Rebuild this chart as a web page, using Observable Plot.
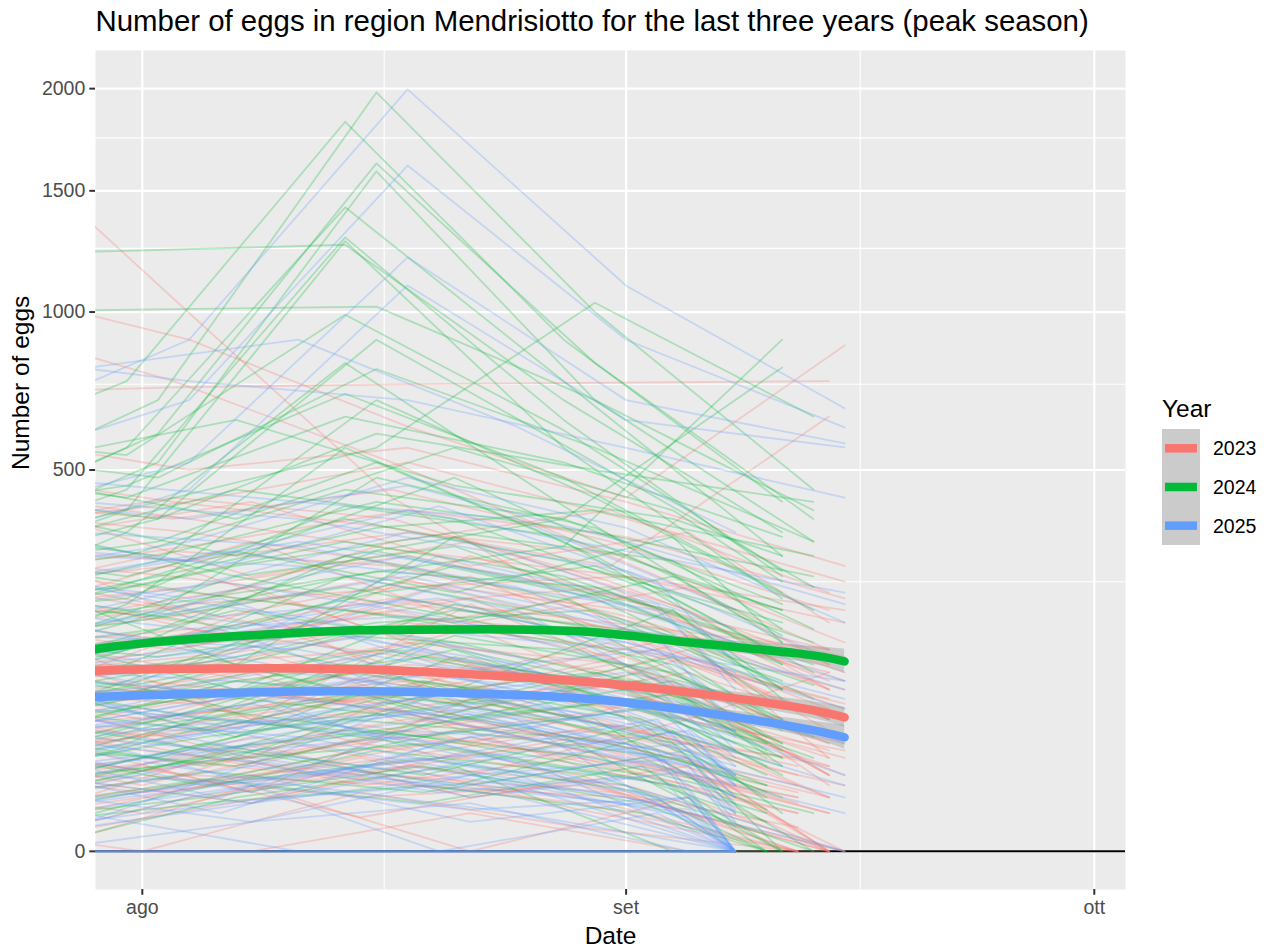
<!DOCTYPE html>
<html><head><meta charset="utf-8">
<script src="https://cdn.jsdelivr.net/npm/d3@7"></script>
<script src="https://cdn.jsdelivr.net/npm/@observablehq/plot@0.6"></script>
<style>
body{margin:0;background:#fff;}
#chart{position:relative;width:1269px;height:949px;font-family:"Liberation Sans",Arial,sans-serif;}
</style></head><body><div id="chart"></div>
<script>
// ---------- data ----------
const years = ["2023", "2024", "2025"];
const colors = ["#F8766D", "#00BA38", "#619CFF"];

const xTickDates = ["08-01", "09-01", "10-01"];
const xTickLabels = ["ago", "set", "ott"];
const xMinorDates = ["2025-08-16T12:00:00Z", "2025-09-16T00:00:00Z"];
const yTicks = [0, 500, 1000, 1500, 2000];
const yMinor = [250, 750, 1250, 1750];

// trap sampling dates (plotted on a common calendar)
const dates2023a = ["07-20", "08-03", "08-17", "08-31", "09-14"];
const dates2023b = ["07-21", "08-04", "08-18", "09-01", "09-15"];
const dates2023c = ["07-25", "08-08", "08-22", "09-05", "09-14"];
const dates2023d = ["07-18", "08-01", "08-15", "08-29", "09-12"];
const dates2024a = ["07-17", "07-31", "08-14", "08-28", "09-11"];
const dates2024b = ["07-19", "08-02", "08-16", "08-30", "09-13"];
const dates2024c = ["07-24", "08-07", "08-21", "09-04", "09-11"];
const dates2024d = ["07-22", "08-05", "08-19", "09-02", "09-10"];
const dates2025a = ["07-14", "07-28", "08-11", "08-25", "09-08"];
const dates2025b = ["07-21", "08-04", "08-18", "09-01", "09-15"];
const dates2025c = ["07-23", "08-06", "08-20", "09-03", "09-08"];
const dates2025d = ["07-25", "08-08", "08-22", "09-05", "09-08"];

const eggs2023a = [
  [1950,1050,430,180,60],[980,760,520,300,140],[420,380,450,330,200],[300,260,210,240,90],
  [150,190,260,170,60],[80,120,140,95,30],[40,60,110,70,0],[220,310,280,190,110],
  [10,25,45,30,5],[500,420,360,280,650],[120,90,75,120,45],[260,200,330,400,230],
  [0,5,20,12,0],[60,45,90,150,80],[350,430,380,250,120],[180,140,200,130,20],
  [25,50,70,40,10],[720,740,750,755,760],[95,160,220,180,140],[5,15,30,55,25],
  [240,280,160,110,40],[130,110,170,230,100]
];
const eggs2023b = [
  [1100,900,620,430,880],[360,420,520,380,250],[200,240,300,220,110],[70,100,150,120,40],
  [15,30,60,40,0],[280,230,190,160,70],[450,380,310,260,180],[140,170,130,90,20],
  [0,10,25,15,0],[55,80,120,100,60],[320,290,350,300,150],[190,150,210,170,90],
  [35,20,50,80,30],[600,500,560,420,280],[105,130,180,140,75],[230,180,250,200,130],
  [8,20,15,10,0],[400,350,280,190,100],[160,210,240,260,200],[50,65,85,45,15],
  [260,320,400,340,220],[90,75,100,70,35]
];
const eggs2023c = [
  [45,12,80,30,0],[160,60,210,90,20],[5,40,10,25,0],[90,200,70,140,50],
  [20,8,35,5,0],[300,150,260,120,60],[60,110,40,90,15],[0,0,5,0,0],
  [130,60,100,160,90],[210,330,180,240,120],[35,90,55,20,5],[75,30,120,60,110],
  [250,180,90,150,30],[12,45,20,60,25],[110,160,220,100,40],[400,260,330,200,90],
  [0,15,0,10,0],[55,25,70,110,60],[180,240,120,80,20],[28,70,130,45,10],
  [95,140,60,130,70],[340,420,280,350,180],[3,20,45,15,0],[150,100,170,70,35],
  [65,120,85,40,10],[230,150,300,190,140]
];
const eggs2023d = [
  [8,25,4,18,0],[40,15,55,30,10],[2,10,30,6,0],[70,35,20,45,15],[18,50,80,25,5],
  [3,0,12,2,0],[55,90,40,65,20],[25,12,35,50,30],[100,60,85,40,8],[12,30,18,8,0],
  [35,70,110,60,25],[6,20,10,15,2],[85,45,65,95,50],[48,22,40,20,0],[15,5,25,40,12],
  [60,100,75,35,10],[28,45,15,30,5],[4,12,22,10,0]
];
const eggs2024a = [
  [1220,1240,1265,700,350],[500,760,1830,900,420],[330,560,1426,760,300],[280,450,1296,640,260],
  [240,400,1280,560,220],[180,350,820,410,150],[90,210,560,330,120],[250,300,450,380,210],
  [60,140,300,220,90],[15,40,120,95,30],[320,260,380,290,180],[140,180,240,170,60],
  [500,430,650,520,340],[30,85,160,140,70],[210,240,330,260,140],[5,20,60,45,0],
  [380,460,720,480,230],[110,95,200,150,40],[45,70,110,80,25],[600,540,990,610,270],
  [75,120,260,190,55],[190,220,410,340,200],[150,200,260,320,900],[100,180,300,380,805]
];
const eggs2024b = [
  [1000,1010,1020,700,400],[420,700,1980,1000,450],[350,600,1627,820,380],[300,520,1590,700,330],
  [300,420,560,1035,650],[260,380,900,520,240],[200,290,700,430,200],[120,200,480,360,170],
  [160,130,180,200,95],[0,10,35,20,0],[20,55,90,60,0],[270,330,520,300,110],
  [450,380,600,500,420],[85,150,230,280,150],[220,190,270,240,120],[40,30,80,110,45],
  [360,300,420,350,260],[130,170,310,220,80],[10,25,50,30,5],[550,480,800,560,330],
  [65,90,140,100,30],[180,260,360,400,300]
];
const eggs2024c = [
  [60,150,90,200,80],[250,120,340,180,90],[10,35,15,50,5],[140,260,190,120,60],
  [30,80,140,60,20],[400,300,480,260,160],[95,45,130,80,30],[0,10,25,0,0],
  [190,310,230,340,150],[70,120,60,100,40],[320,450,380,220,130],[20,60,35,15,0],
  [160,90,210,150,100],[480,380,560,400,250],[45,100,75,130,55],[230,170,280,200,90],
  [120,200,150,90,25],[5,20,50,30,10],[280,220,180,260,200],[85,130,200,160,70],
  [360,260,320,180,120],[15,45,90,40,0],[200,280,350,290,170],[110,70,160,110,50],
  [40,25,60,85,35],[520,640,460,380,300]
];
const eggs2024d = [
  [12,40,20,55,10],[50,25,80,45,15],[5,18,8,25,0],[90,130,70,100,40],[22,60,95,40,12],
  [2,8,15,5,0],[65,35,55,80,30],[30,70,45,20,5],[120,80,150,90,35],[15,28,40,18,3],
  [45,85,60,110,45],[8,22,12,30,6],[75,50,100,60,20],[38,15,30,12,0],[20,45,70,35,15],
  [55,95,130,75,25],[3,10,25,8,0],[100,60,45,70,40]
];
const eggs2025a = [
  [0,0,0,0,0],[0,0,0,0,0],[0,5,0,0,0],[30,60,45,20,0],
  [120,160,140,90,10],[250,300,280,200,60],[80,110,95,60,0],[400,350,320,240,110],
  [15,35,60,30,0],[180,210,170,120,40],[560,470,420,380,200],[60,45,30,15,0],
  [300,240,190,130,50],[140,100,80,55,20],[700,800,900,620,350],[10,20,15,5,0],
  [220,260,330,260,150],[90,130,180,110,35],[45,70,55,80,25],[350,420,380,300,170],
  [160,120,150,100,50],[20,40,25,10,0]
];
const eggs2025b = [
  [600,900,1996,1100,675],[500,700,1617,900,618],[380,520,1213,700,572],[300,450,1101,640,561],
  [260,330,480,360,180],[120,160,220,150,70],[40,75,110,80,20],[190,240,350,270,120],
  [0,10,30,15,0],[80,95,140,90,40],[430,380,460,330,210],[150,200,260,180,90],
  [20,35,50,40,10],[270,220,300,210,100],[110,140,90,60,15],[60,50,80,110,60],
  [330,290,400,310,230],[5,15,25,10,0],[210,170,190,150,80],[95,120,170,140,100],
  [850,760,700,560,430],[35,55,65,30,5]
];
const eggs2025c = [
  [0,0,0,0,0],[0,0,0,0,0],[0,0,0,0,0],[0,0,0,0,0],
  [25,5,40,10,0],[110,45,150,70,20],[8,30,12,20,0],[200,130,240,160,50],
  [50,95,30,60,10],[0,20,0,5,0],[150,220,120,90,30],[35,10,60,25,5],
  [280,190,220,130,60],[75,120,90,45,15],[15,40,70,35,0],[130,80,110,140,70],
  [350,280,410,250,120],[60,20,85,30,0],[170,250,190,110,45],[90,60,40,75,25],
  [5,15,30,10,0],[240,310,260,200,100],[45,70,110,55,15],[120,170,75,50,20],
  [20,50,25,8,0],[190,140,300,210,90]
];
const eggs2025d = [
  [6,20,3,10,0],[35,12,45,20,5],[1,8,20,4,0],[60,30,15,35,10],[15,40,65,25,3],
  [0,3,8,0,0],[45,75,30,50,15],[20,8,28,40,20],[85,50,70,30,5],[10,25,14,6,0],
  [28,55,90,45,18],[4,15,6,10,0],[70,35,50,75,35],[40,18,32,14,0],[12,3,20,30,8],
  [50,85,60,25,6],[22,38,10,22,2],[2,9,16,5,0]
];

// smoothed trend per year (fit and confidence band)
const smoothDates = ["07-28","08-01","08-08","08-15","08-22","08-29","09-05","09-12","09-15"];
const fit2023 = [111.4,113.9,115.1,113.9,107.7,99.4,86.9,71.3,61.7];
const lo2023  = [104.1,107.7,110.2,108.9,102.9,94.7,81.5,63.6,52.9];
const hi2023  = [118.9,120.2,120.2,118.9,112.6,104.1,92.5,79.4,71.3];
const fit2024 = [137.5,148.7,160.4,167.9,169.4,166.4,150.2,134.8,124.1];
const lo2024  = [129.4,141.7,151.6,161.9,163.4,160.4,143.1,124.1,108.9];
const hi2024  = [145.9,156.0,166.4,174.1,175.6,172.5,157.4,145.9,140.3];
const fit2025 = [81.5,83.7,86.9,88.0,85.8,80.5,68.3,52.9,44.7];
const lo2025  = [75.3,78.4,82.6,83.7,81.5,76.3,63.6,46.3,35.8];
const hi2025  = [88.0,89.1,91.3,92.5,90.2,84.7,73.3,59.9,54.6];

// ---------- build tables ----------
const md = s => new Date(`2025-${s}T00:00:00Z`);
const groups = [
  ["2023", dates2023a, eggs2023a], ["2023", dates2023b, eggs2023b], ["2023", dates2023c, eggs2023c], ["2023", dates2023d, eggs2023d],
  ["2024", dates2024a, eggs2024a], ["2024", dates2024b, eggs2024b], ["2024", dates2024c, eggs2024c], ["2024", dates2024d, eggs2024d],
  ["2025", dates2025a, eggs2025a], ["2025", dates2025b, eggs2025b], ["2025", dates2025c, eggs2025c], ["2025", dates2025d, eggs2025d]
];
const rows = [];
groups.forEach(([year, dates, lines], gi) =>
  lines.forEach((vals, li) =>
    vals.forEach((v, k) => rows.push({year, trap: `${year}-${gi}-${li}`, date: md(dates[k]), eggs: v}))));

const smoothSets = [["2023", fit2023, lo2023, hi2023], ["2024", fit2024, lo2024, hi2024], ["2025", fit2025, lo2025, hi2025]];
const smoothRows = smoothSets.map(([year, fit, lo, hi]) =>
  smoothDates.map((s, i) => ({year, date: md(s), fit: fit[i], lo: lo[i], hi: hi[i]})));

const FONT = '"Liberation Sans", Arial, sans-serif';

const smoothMarks = smoothRows.flatMap(sr => [
  Plot.areaY(sr, {x: "date", y1: "lo", y2: "hi", fill: "#999999", fillOpacity: 0.4, curve: "natural", clip: true}),
  Plot.line(sr, {x: "date", y: "fit", stroke: "year", strokeWidth: 8.5, curve: "natural", clip: true})
]);

const chart = Plot.plot({
  width: 1269, height: 949,
  marginLeft: 95, marginRight: 144, marginTop: 50, marginBottom: 60,
  style: {fontFamily: FONT, background: "white", overflow: "visible"},
  x: {type: "utc", domain: [md("07-29"), md("10-03")]},
  y: {type: "sqrt", domain: [-5, 2205]},
  color: {domain: years, range: colors},
  marks: [
    Plot.frame({fill: "#EBEBEB", stroke: "none"}),
    Plot.gridY(yMinor, {stroke: "white", strokeOpacity: 1, strokeWidth: 1.1}),
    Plot.gridX(xMinorDates.map(s => new Date(s)), {stroke: "white", strokeOpacity: 1, strokeWidth: 1.1}),
    Plot.gridY(yTicks, {stroke: "white", strokeOpacity: 1, strokeWidth: 2.2}),
    Plot.gridX(xTickDates.map(md), {stroke: "white", strokeOpacity: 1, strokeWidth: 2.2}),
    Plot.ruleY([0], {stroke: "black", strokeWidth: 2}),
    Plot.line(rows, {x: "date", y: "eggs", z: "trap", stroke: "year", strokeWidth: 1.8, strokeOpacity: 0.27, clip: true}),
    ...smoothMarks,
    Plot.axisY({ticks: yTicks, tickSize: 5.7, tickPadding: 4.5, fontSize: 19.5, fill: "#4D4D4D", stroke: "#333333", strokeWidth: 2, tickFormat: d => String(d), label: null}),
    Plot.axisX({ticks: xTickDates.map(md), tickSize: 5.7, tickPadding: 4.5, fontSize: 19.5, fill: "#4D4D4D", stroke: "#333333", strokeWidth: 2,
      tickFormat: t => xTickLabels[xTickDates.findIndex(s => +md(s) === +t)], label: null}),
    Plot.text(["Date"], {frameAnchor: "bottom", dy: 54, lineAnchor: "bottom", fontSize: 24.5, fill: "black"}),
    Plot.text(["Number of eggs"], {frameAnchor: "left", dx: -67, rotate: -90, lineAnchor: "bottom", fontSize: 24.5, fill: "black"}),
    Plot.text(["Number of eggs in region Mendrisiotto for the last three years (peak season)"],
      {frameAnchor: "top-left", dy: -20, lineAnchor: "bottom", textAnchor: "start", fontSize: 29.4, fill: "black"})
  ]
});
document.getElementById("chart").appendChild(chart);

// ---------- legend ----------
const svg = d3.select(chart);
const lg = svg.append("g").attr("font-family", FONT).attr("text-anchor", "start");
lg.append("text").attr("x", 1162).attr("y", 417).attr("font-size", 24.5).attr("fill", "black").text("Year");
lg.append("rect").attr("x", 1162).attr("y", 429).attr("width", 38).attr("height", 116).attr("fill", "#CBCBCB");
years.forEach((yr, i) => {
  const cy = 448.3 + i * 38.67;
  lg.append("line").attr("x1", 1165).attr("x2", 1197).attr("y1", cy).attr("y2", cy)
    .attr("stroke", colors[i]).attr("stroke-width", 8.5);
  lg.append("text").attr("x", 1213).attr("y", cy + 7).attr("font-size", 19.5).attr("fill", "black").text(yr);
});
</script>
</body></html>
